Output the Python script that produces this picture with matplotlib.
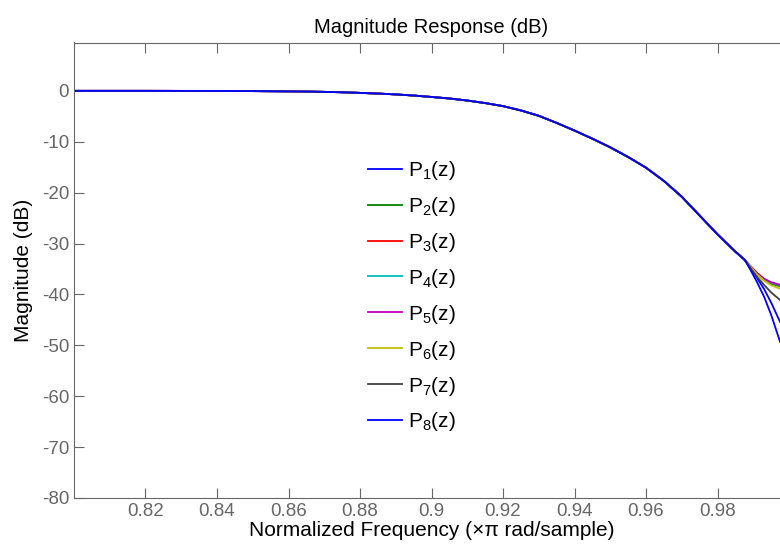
import numpy as np
import matplotlib
matplotlib.use("Agg")
import matplotlib.pyplot as plt

plt.rcParams["font.family"] = ["Liberation Sans", "DejaVu Sans"]
plt.rcParams["mathtext.fontset"] = "custom"
plt.rcParams["mathtext.rm"] = "Liberation Sans"
plt.rcParams["mathtext.it"] = "Liberation Sans"
plt.rcParams["axes.unicode_minus"] = False

# ======================
# DATA
# ======================
# common passband / transition part, shared by all eight responses
freq_common = [0.80, 0.82, 0.84, 0.85, 0.86, 0.865, 0.87, 0.875, 0.88, 0.885,
               0.89, 0.895, 0.90, 0.905, 0.91, 0.915, 0.92, 0.925, 0.93, 0.935,
               0.94, 0.945, 0.95, 0.955, 0.96, 0.965, 0.97, 0.975, 0.98,
               0.985, 0.9876]
mag_common = [0.0, 0.0, -0.02, -0.05, -0.1, -0.14, -0.2, -0.28, -0.4, -0.53,
              -0.7, -0.92, -1.2, -1.5, -1.9, -2.4, -3.0, -3.85, -4.9, -6.3,
              -7.8, -9.4, -11.1, -13.0, -15.1, -17.7, -20.8, -24.5, -28.2,
              -31.6, -33.2]

# tails where the curves split apart
freq_tail = [0.989, 0.991, 0.993, 0.995, 0.9975]
tail_p1 = [-34.6, -36.7, -38.9, -41.6, -45.4]
tail_p2 = [-34.4, -35.9, -37.1, -37.9, -38.4]
tail_p3 = [-34.3, -35.8, -37.0, -37.7, -38.2]
tail_p4 = [-34.3, -35.8, -37.0, -37.7, -38.2]
tail_p5 = [-34.3, -35.7, -36.9, -37.6, -38.1]
tail_p6 = [-34.4, -36.0, -37.3, -38.2, -38.9]
tail_p7 = [-34.6, -36.5, -38.1, -39.6, -41.1]
tail_p8 = [-34.9, -37.5, -40.4, -44.0, -49.3]

labels = ["P$_{%d}$(z)" % i for i in range(1, 9)]
tails = [tail_p1, tail_p2, tail_p3, tail_p4, tail_p5, tail_p6, tail_p7, tail_p8]
colors = ["#0000ff", "#008000", "#ff0000", "#00bfbf", "#bf00bf", "#bfbf00",
          "#404040", "#0000ff"]

x_ticks = [0.82, 0.84, 0.86, 0.88, 0.9, 0.92, 0.94, 0.96, 0.98]
y_ticks = [0, -10, -20, -30, -40, -50, -60, -70, -80]

# ======================
# PLOT
# ======================
fig = plt.figure(figsize=(7.8, 5.49), dpi=100)
# axes runs past the right edge of the picture like in the reference crop
ax = fig.add_axes([74 / 780, 51 / 549, 715 / 780, 455.5 / 549])

for lab, tail, col in zip(labels, tails, colors):
    f = np.array(freq_common + freq_tail)
    m = np.array(mag_common + tail)
    ax.plot(f, m, color=col, linewidth=1.3, label=lab)

ax.set_xlim(0.8, 1.0)
ax.set_ylim(-80, 9.5)
ax.set_xticks(x_ticks)
ax.set_xticklabels(["%g" % t for t in x_ticks])
ax.set_yticks(y_ticks)

gray = "#666666"
for s in ax.spines.values():
    s.set_color(gray)
ax.tick_params(direction="in", length=7, width=0.8, color=gray,
               labelcolor=gray, labelsize=13.5, top=True, right=False)

ax.set_title("Magnitude Response (dB)", fontsize=14.5, pad=7)
ax.set_xlabel("Normalized Frequency (\u00d7\u03c0 rad/sample)", fontsize=15, labelpad=1)
ax.set_ylabel("Magnitude (dB)", fontsize=15, labelpad=6)

ax.legend(loc="upper left", bbox_to_anchor=(368 / 780, 1 - 159 / 549),
          bbox_transform=fig.transFigure, frameon=False, fontsize=15,
          handlelength=1.65, handletextpad=0.25, labelspacing=0.62,
          borderpad=0, borderaxespad=0)

plt.savefig("out.png", dpi=100)
